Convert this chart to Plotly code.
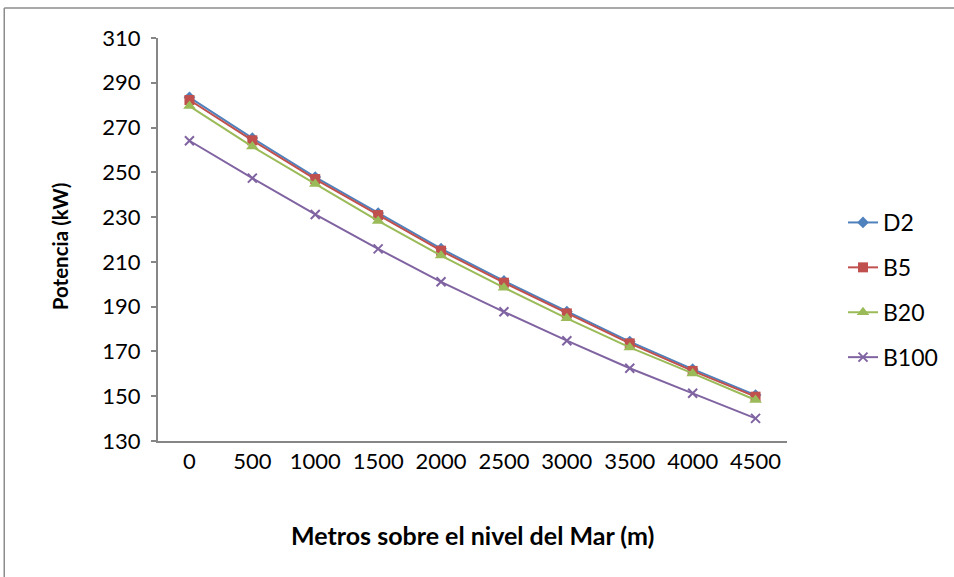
import plotly.graph_objects as go

# Altitude (m above sea level) and engine power (kW) per fuel blend
altitud = [0, 500, 1000, 1500, 2000, 2500, 3000, 3500, 4000, 4500]
d2 = [283.5, 265.3, 247.9, 231.8, 215.9, 201.5, 187.8, 174.4, 162.1, 150.5]
b5 = [282.3, 264.3, 247.0, 230.9, 215.0, 200.7, 187.0, 173.6, 161.3, 149.8]
b20 = [279.6, 261.5, 244.8, 228.3, 212.8, 198.5, 184.8, 171.8, 160.2, 148.3]
b100 = [264.1, 247.4, 231.2, 215.8, 201.1, 187.7, 174.8, 162.5, 151.3, 140.1]
y_ticks = [130, 150, 170, 190, 210, 230, 250, 270, 290, 310]

series = [
    ("D2", d2, "#4F81BD", "diamond", 9),
    ("B5", b5, "#C0504D", "square", 10),
    ("B20", b20, "#9BBB59", "triangle-up", 11),
    ("B100", b100, "#8064A2", "x-thin", 9),
]

FONT = "Lato"
fig = go.Figure()
for i, (name, vals, color, sym, size) in enumerate(series):
    marker = dict(symbol=sym, size=size, color=color)
    if sym == "x-thin":
        marker["line"] = dict(color=color, width=2)
    fig.add_trace(go.Scatter(
        x=altitud, y=vals, name=name, mode="lines+markers",
        line=dict(color=color, width=2), marker=marker,
        legendgroup=f"g{i}",
    ))

W, H = 954, 577
L, R, T, B = 158, 788, 38, 441

fig.update_layout(
    width=W, height=H,
    margin=dict(l=L, r=W - R, t=T, b=H - B),
    paper_bgcolor="white", plot_bgcolor="white",
    font=dict(family=FONT, size=22, color="black"),
    showlegend=True,
    legend=dict(
        x=(843 - L) / (R - L), y=(B - 290) / (B - T), xanchor="left", yanchor="middle",
        font=dict(family=FONT, size=23, color="black"),
        tracegroupgap=12, traceorder="grouped",
        bgcolor="rgba(0,0,0,0)",
    ),
    xaxis=dict(
        range=[-250, 4750], tickmode="array", tickvals=altitud,
        ticktext=[str(a) for a in altitud],
        showline=True, linecolor="#868686", linewidth=2,
        ticks="outside", ticklen=0, tickcolor="rgba(0,0,0,0)",
        showgrid=False, zeroline=False,
        tickfont=dict(family=FONT, size=22),
    ),
    yaxis=dict(
        range=[130, 310], tickmode="array", tickvals=y_ticks,
        showline=True, linecolor="#868686", linewidth=2,
        ticks="outside", ticklen=5, tickcolor="#868686", tickwidth=1.5,
        ticklabelstandoff=6,
        showgrid=False, zeroline=False,
        tickfont=dict(family=FONT, size=22),
    ),
    annotations=[
        dict(text="<b>Metros sobre el nivel del Mar (m)</b>", xref="paper", yref="paper",
             x=0.5, y=-(535 - B) / (B - T), xanchor="center", yanchor="middle",
             showarrow=False, font=dict(family=FONT, size=25)),
        dict(text="<b>Potencia (kW)</b>", xref="paper", yref="paper",
             x=-(L - 60) / (R - L), y=(B - 246) / (B - T), xanchor="center", yanchor="middle",
             textangle=-90, showarrow=False, font=dict(family=FONT, size=20.5)),
    ],
    shapes=[
        # chart frame (top and left edges)
        dict(type="line", xref="paper", yref="paper",
             x0=(4 - L) / (R - L), x1=(W + 5 - L) / (R - L),
             y0=(B - 8) / (B - T), y1=(B - 8) / (B - T),
             line=dict(color="#8c8c8c", width=1.5)),
        dict(type="line", xref="paper", yref="paper",
             x0=(4 - L) / (R - L), x1=(4 - L) / (R - L),
             y0=(B - 8) / (B - T), y1=-(H + 5 - B) / (B - T),
             line=dict(color="#8c8c8c", width=1.5)),
    ],
)

fig.write_html("out.html")
